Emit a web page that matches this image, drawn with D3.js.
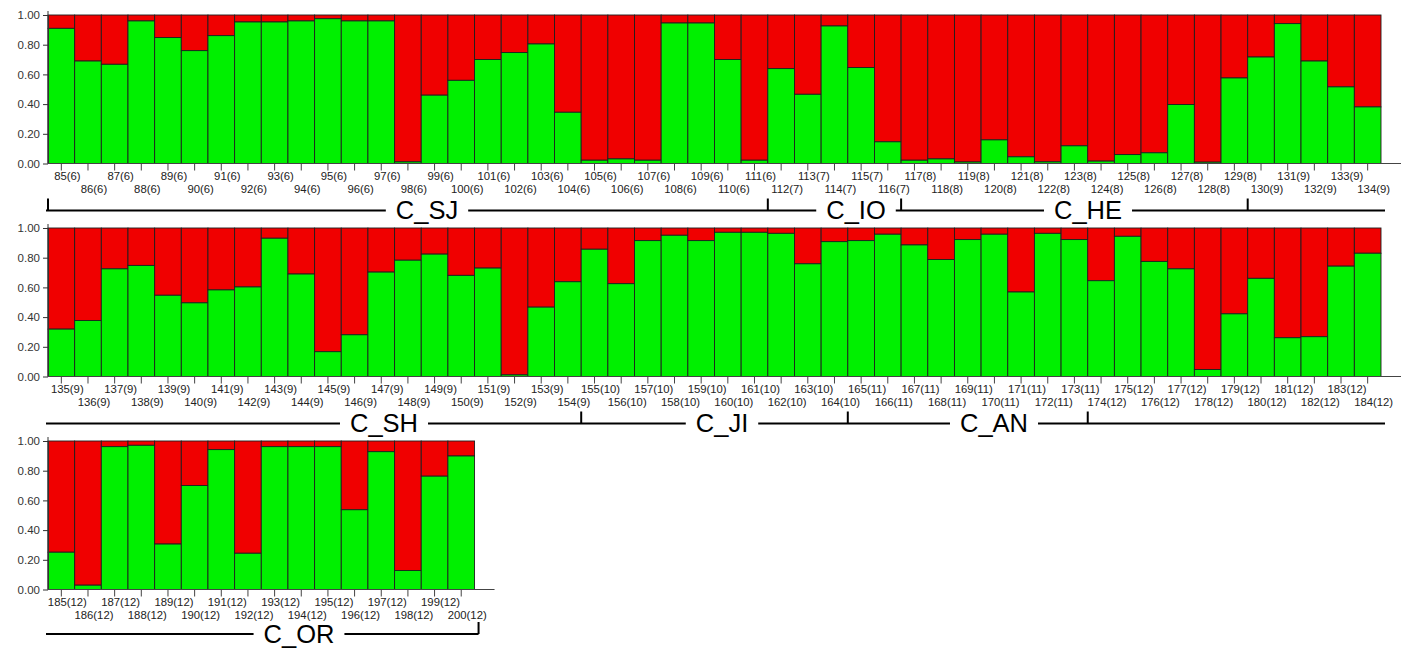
<!DOCTYPE html>
<html>
<head>
<meta charset="utf-8">
<script src="https://cdn.jsdelivr.net/npm/d3@7"></script>
<style>
  body { margin: 0; background: #fff; }
  text { font-family: "Liberation Sans", Arial, sans-serif; }
</style>
</head>
<body>
<svg id="chart"></svg>
<script>
// individuals (sample number) and the population each one belongs to
const ids = [85,86,87,88,89,90,91,92,93,94,95,96,97,98,99,100,101,102,103,104,
  105,106,107,108,109,110,111,112,113,114,115,116,117,118,119,120,121,122,123,124,
  125,126,127,128,129,130,131,132,133,134,135,136,137,138,139,140,141,142,143,144,
  145,146,147,148,149,150,151,152,153,154,155,156,157,158,159,160,161,162,163,164,
  165,166,167,168,169,170,171,172,173,174,175,176,177,178,179,180,181,182,183,184,
  185,186,187,188,189,190,191,192,193,194,195,196,197,198,199,200];
const pops = [6,6,6,6,6,6,6,6,6,6,6,6,6,6,6,6,6,6,6,6,6,6,6,6,6,6,6,
  7,7,7,7,7,
  8,8,8,8,8,8,8,8,8,8,8,8,8,
  9,9,9,9,9,9,9,9,9,9,9,9,9,9,9,9,9,9,9,9,9,9,9,9,9,
  10,10,10,10,10,10,10,10,10,10,
  11,11,11,11,11,11,11,11,11,
  12,12,12,12,12,12,12,12,12,12,12,12,12,12,12,12,12,12,12,12,12,12,12,12,12,12,12];
// membership in cluster 1 (green); the rest is cluster 2 (red)
const cluster1 = [
  0.91,0.69,0.668,0.96,0.848,0.76,0.861,0.953,0.953,0.96,
  0.975,0.96,0.96,0.011,0.46,0.56,0.70,0.747,0.805,0.345,
  0.022,0.031,0.022,0.946,0.946,0.70,0.022,0.639,0.466,0.926,
  0.646,0.146,0.022,0.031,0.01,0.159,0.045,0.011,0.119,0.016,
  0.06,0.072,0.397,0.009,0.576,0.717,0.942,0.69,0.516,0.381,
  0.319,0.377,0.725,0.748,0.547,0.496,0.583,0.603,0.931,0.69,
  0.167,0.281,0.703,0.783,0.824,0.681,0.73,0.011,0.467,0.638,
  0.857,0.625,0.915,0.951,0.915,0.971,0.971,0.964,0.759,0.908,
  0.915,0.958,0.886,0.788,0.922,0.958,0.569,0.964,0.922,0.645,
  0.944,0.775,0.725,0.047,0.422,0.661,0.261,0.268,0.743,0.83,
  0.251,0.029,0.962,0.971,0.306,0.70,0.942,0.244,0.962,0.962,
  0.962,0.537,0.928,0.128,0.763,0.899];
const popCodes = [6,7,8,9,10,11,12];
const popNames = ["C_SJ","C_IO","C_HE","C_SH","C_JI","C_AN","C_OR"];
const yTicks = [0, 0.2, 0.4, 0.6, 0.8, 1.0];

// layout
const W = 1410, H = 649;
const left = 48, barW = 26.66, perRow = 50;
const rowTop0 = 15, rowStep = 213, plotH = 148.5;
const green = "#00f000", red = "#f00000", edge = "#1e1e1e";
// where each population name sits: [row, x]
const nameSpot = [[0, 427], [0, 856], [0, 1088], [1, 384], [1, 722], [1, 994], [2, 299]];

const svg = d3.select("#chart").attr("width", W).attr("height", H);
svg.append("rect").attr("width", W).attr("height", H).attr("fill", "#fff");

const data = ids.map((id, i) => ({ id: id, pop: pops[i], g: cluster1[i], i: i }));
const nRows = Math.ceil(data.length / perRow);

for (let r = 0; r < nRows; r++) {
    const rows = data.slice(r * perRow, (r + 1) * perRow);
    const top = rowTop0 + r * rowStep;
    const rowEnd = left + rows.length * barW;

    const x = d3.scaleBand().domain(rows.map(d => d.id)).range([left, rowEnd]).padding(0);
    const y = d3.scaleLinear().domain([0, 1]).range([top + plotH, top]);
    const y0 = y(0);

    const g = svg.append("g");

    // bars
    const bar = g.selectAll("g.bar").data(rows).enter().append("g").attr("class", "bar");
    bar.append("rect")
        .attr("x", d => x(d.id)).attr("width", x.bandwidth())
        .attr("y", y(1)).attr("height", d => y(d.g) - y(1))
        .attr("fill", red).attr("stroke", edge).attr("stroke-width", 0.9);
    bar.append("rect")
        .attr("x", d => x(d.id)).attr("width", x.bandwidth())
        .attr("y", d => y(d.g)).attr("height", d => y0 - y(d.g))
        .attr("fill", green).attr("stroke", edge).attr("stroke-width", 0.9);

    // y axis
    const yAxis = g.append("g").attr("transform", `translate(${left},0)`)
        .call(d3.axisLeft(y).tickValues(yTicks).tickFormat(d3.format(".2f")).tickSize(5).tickSizeOuter(0));
    yAxis.select(".domain").attr("stroke", "#333");
    yAxis.selectAll(".tick line").attr("stroke", "#333");
    yAxis.selectAll(".tick text").attr("font-size", 11.5).attr("fill", "#333")
        .attr("font-family", "'Liberation Sans', Arial, sans-serif");
    g.append("line").attr("x1", left).attr("x2", left)
        .attr("y1", y(1) - 4).attr("y2", y0).attr("stroke", "#333");

    // x baseline and ticks
    g.append("line").attr("x1", left).attr("x2", rowEnd + 20)
        .attr("y1", y0).attr("y2", y0).attr("stroke", "#444").attr("stroke-width", 1);
    g.selectAll("line.xt").data(rows).enter().append("line").attr("class", "xt")
        .attr("x1", d => x(d.id) + x.bandwidth() / 2).attr("x2", d => x(d.id) + x.bandwidth() / 2)
        .attr("y1", y0).attr("y2", y0 + 7).attr("stroke", "#444");
    g.selectAll("text.xl").data(rows).enter().append("text").attr("class", "xl")
        .attr("x", d => x(d.id) + x.bandwidth() / 2 + 6)
        .attr("y", d => y0 + (d.id % 2 ? 16 : 29))
        .attr("text-anchor", "middle").attr("font-size", 11.3).attr("fill", "#222")
        .text(d => `${d.id}(${d.pop})`);

    // population bar underneath
    const lineY = Math.min(y0 + 47, H - 15);
    const lineEnd = rowEnd + 4;
    g.append("line").attr("x1", left - 2).attr("x2", lineEnd)
        .attr("y1", lineY).attr("y2", lineY).attr("stroke", "#000").attr("stroke-width", 2);

    rows.forEach(d => {
        if (d.i > 0 && data[d.i - 1].pop !== d.pop) {
            g.append("line").attr("x1", x(d.id)).attr("x2", x(d.id))
                .attr("y1", lineY - 12).attr("y2", lineY).attr("stroke", "#000").attr("stroke-width", 2);
        }
    });
    if (r === 0) {
        g.append("line").attr("x1", left).attr("x2", left)
            .attr("y1", lineY - 12).attr("y2", lineY).attr("stroke", "#000").attr("stroke-width", 2);
    }
    if (r === nRows - 1) {
        g.append("line").attr("x1", lineEnd).attr("x2", lineEnd)
            .attr("y1", lineY - 12).attr("y2", lineY).attr("stroke", "#000").attr("stroke-width", 2);
    }

    popNames.forEach((name, k) => {
        if (nameSpot[k][0] !== r) return;
        const cx = nameSpot[k][1];
        const bg = g.append("rect").attr("fill", "#fff");
        const t = g.append("text").attr("x", cx).attr("y", lineY + 8.5)
            .attr("text-anchor", "middle").attr("font-size", 25.5).attr("fill", "#000")
            .text(name);
        const tw = t.node().getComputedTextLength();
        bg.attr("x", cx - tw / 2 - 10).attr("width", tw + 20)
            .attr("y", lineY - 3).attr("height", 6);
    });
}
</script>
</body>
</html>
